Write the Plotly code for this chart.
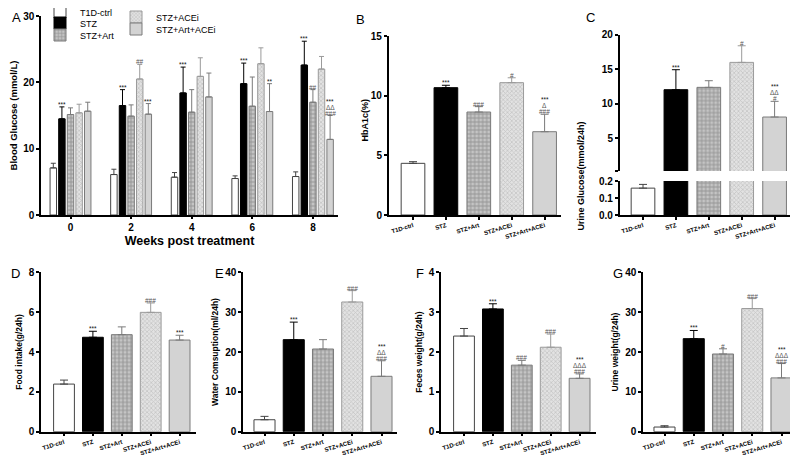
import plotly.graph_objects as go

groups = ["T1D-ctrl", "STZ", "STZ+Art", "STZ+ACEi", "STZ+Art+ACEi"]
weeks = ["0", "2", "4", "6", "8"]

# A: blood glucose (mmol/L) per week, mean and SEM
glu_ctrl = [7.1, 6.1, 5.7, 5.5, 5.8]
glu_stz = [14.5, 16.5, 18.4, 19.8, 22.6]
glu_art = [15.15, 14.9, 15.5, 16.4, 17.0]
glu_acei = [15.4, 20.5, 20.9, 22.8, 22.0]
glu_both = [15.65, 15.2, 17.8, 15.6, 11.4]
sem_ctrl = [0.7, 0.8, 0.7, 0.4, 0.7]
sem_stz = [1.8, 2.4, 3.9, 3.1, 3.6]
sem_art = [1.0, 1.7, 3.4, 4.4, 1.9]
sem_acei = [1.3, 2.2, 2.8, 2.4, 1.9]
sem_both = [1.35, 1.6, 3.6, 4.2, 3.6]
marks_a_ctrl = [[], [], [], [], []]
marks_a_stz = [["***"], ["***"], ["***"], ["***"], ["***"]]
marks_a_art = [[], [], [], [], ["##"]]
marks_a_acei = [[], ["##"], [], [], []]
marks_a_both = [[], ["***"], [], ["**"], ["###", "ΔΔ", "***"]]

# B-G: one value per group, mean and SEM
hba1c = [4.33, 10.67, 8.63, 11.09, 6.98]
hba1c_sem = [0.14, 0.2, 0.45, 0.41, 1.46]
hba1c_marks = [[], ["***"], ["###"], ["#"], ["###", "Δ", "***"]]

uglu = [0.158, 12.05, 12.39, 16.0, 8.1]
uglu_sem = [0.022, 2.89, 0.96, 2.4, 2.27]
uglu_marks = [[], ["***"], [], ["#"], ["#", "ΔΔ", "***"]]

food = [2.39, 4.74, 4.87, 5.99, 4.6]
food_sem = [0.2, 0.3, 0.39, 0.47, 0.24]
food_marks = [[], ["***"], [], ["###"], ["***"]]

water = [3.0, 23.1, 20.75, 32.55, 13.9]
water_sem = [0.85, 4.4, 2.35, 2.85, 3.9]
water_marks = [[], ["***"], [], ["###"], ["###", "ΔΔ", "***"]]

feces = [2.40, 3.08, 1.67, 2.12, 1.34]
feces_sem = [0.19, 0.13, 0.12, 0.33, 0.11]
feces_marks = [[], ["***"], ["###"], ["###"], ["###", "ΔΔΔ", "***"]]

urine = [1.17, 23.35, 19.5, 30.9, 13.5]
urine_sem = [0.33, 2.05, 1.3, 2.5, 3.6]
urine_marks = [[], ["***"], ["#"], ["###"], ["###", "ΔΔΔ", "***"]]

W, H = 798, 456
FONT = "Liberation Sans, Arial, sans-serif"

fills = ["white", "black", "#c4c4c4", "#e2e2e2", "#d3d3d3"]
edges = ["#444444", "black", "#7a7a7a", "#9a9a9a", "#7a7a7a"]
pshape = ["", "", "+", "x", ""]
pfg = ["#000", "#000", "#6a6a6a", "#a8a8a8", "#000"]
psize = [6, 6, 4, 3, 6]
# legend placement (x, y of item centre in px) for panel A
leg_pos = [(32, 4), (32, 15), (32, 27), (108, 9), (108, 21)]


def px(x):
    return x / W


def py(y):
    return 1 - y / H


def marker(i):
    return dict(color=fills[i], line=dict(color=edges[i], width=1),
                pattern=dict(shape=pshape[i], fgcolor=pfg[i], bgcolor=fills[i],
                             size=psize[i], solidity=0.45))


def mark_color(t):
    return "#111" if "*" in t else "#555"


def mark(x, y, xref, yref, k, t):
    return dict(x=x, y=y, xref=xref, yref=yref, text=t, showarrow=False,
                yanchor="bottom", yshift=k * 6 - 3,
                font=dict(family=FONT, size=6.5, color=mark_color(t)))


fig = go.Figure()
annots = []

# ---- panel A
glu = [glu_ctrl, glu_stz, glu_art, glu_acei, glu_both]
sems = [sem_ctrl, sem_stz, sem_art, sem_acei, sem_both]
marks_a = [marks_a_ctrl, marks_a_stz, marks_a_art, marks_a_acei, marks_a_both]
bargap = 0.29
legends = {}
for i, g in enumerate(groups):
    lname = "legend" if i == 0 else "legend%d" % (i + 1)
    fig.add_trace(go.Bar(
        name=g, x=weeks, y=glu[i], xaxis="x", yaxis="y", marker=marker(i),
        legend=lname,
        error_y=dict(type="data", symmetric=False, array=sems[i],
                     arrayminus=[0] * 5, color=edges[i], thickness=1, width=2.5)))
    legends[lname] = dict(x=px(leg_pos[i][0]), y=py(leg_pos[i][1]), xanchor="left",
                          yanchor="middle", font=dict(family=FONT, size=9),
                          bgcolor="rgba(0,0,0,0)", itemwidth=30)
    for w in range(5):
        for k, t in enumerate(marks_a[i][w]):
            annots.append(mark(w + (i - 2) * (1 - bargap) / 5, glu[i][w] + sems[i][w],
                               "x", "y", k, t))

axis_line = dict(showline=True, linecolor="black", linewidth=1.5, ticks="outside",
                 ticklen=3, tickwidth=1.5, tickcolor="black", showgrid=False,
                 zeroline=False, automargin=False)
bold10 = dict(family=FONT, size=10, color="black", weight="bold")
cat_font = dict(family=FONT, size=6, color="black", weight="bold")

layout = dict(
    xaxis=dict(domain=[px(33), px(330)], range=[-0.487, 4.414], type="category",
               anchor="y", tickfont=bold10,
               title=dict(text="Weeks post treatment", standoff=4,
                          font=dict(family=FONT, size=12.5, color="black", weight="bold")),
               **axis_line),
    yaxis=dict(domain=[py(207), py(8)], range=[0, 30], dtick=10, anchor="x",
               tickfont=bold10,
               title=dict(text="Blood Glucose (mmol/L)", standoff=6,
                          font=dict(family=FONT, size=9.5, color="black", weight="bold")),
               **axis_line),
)
layout["xaxis"]["ticklen"] = 2


def single_panel(n, vals, sem, marks, xpx, c0, pitch, ybot, ytop, yrange, dtick, title,
                 tsize=8.5):
    xa, ya = "x%d" % n, "y%d" % n
    w = 0.72
    for i, g in enumerate(groups):
        fig.add_trace(go.Bar(
            x=[g], y=[vals[i]], xaxis=xa, yaxis=ya, width=w, offset=-w / 2,
            marker=marker(i), showlegend=False,
            error_y=dict(type="data", symmetric=False, array=[sem[i]], arrayminus=[0],
                         color=edges[i], thickness=1, width=4)))
        for k, t in enumerate(marks[i]):
            annots.append(mark(g, vals[i] + sem[i], xa, ya, k, t))
    layout["xaxis%d" % n] = dict(
        domain=[px(xpx[0]), px(xpx[1])], type="category", categoryarray=groups,
        categoryorder="array", anchor=ya, tickangle=-17, tickfont=cat_font,
        range=[(xpx[0] - c0) / pitch, (xpx[1] - c0) / pitch], **axis_line)
    layout["yaxis%d" % n] = dict(
        domain=[py(ybot), py(ytop)], range=yrange, dtick=dtick, anchor=xa,
        tickfont=bold10,
        title=dict(text=title, standoff=5,
                   font=dict(family=FONT, size=tsize, color="black", weight="bold")),
        **axis_line)


single_panel(2, hba1c, hba1c_sem, hba1c_marks, (380.7, 553), 405, 32.9, 207, 28,
             [0, 15], 5, "")
single_panel(4, food, food_sem, food_marks, (33, 188), 56, 28.9, 423.7, 264.3,
             [0, 8], 2, "Food intake(g/24h)")
single_panel(5, water, water_sem, water_marks, (235, 389), 256.5, 29.25, 423.7, 264.3,
             [0, 40], 10, "Water Comsuption(ml/24h)")
single_panel(6, feces, feces_sem, feces_marks, (433, 588), 456, 28.9, 423.7, 264.3,
             [0, 4], 1, "Feces weight(g/24h)")
single_panel(7, urine, urine_sem, urine_marks, (635, 790), 656.5, 29.25, 423.7, 264.3,
             [0, 40], 10, "Urine weight(g/24h)")
annots.append(dict(x=px(356), y=py(89), xref="paper", yref="paper",
                   text="HbA1c(%)", textangle=-90, showarrow=False,
                   font=dict(family=FONT, size=9, color="black", weight="bold")))

# ---- panel C with broken y axis (lower y3, upper y8)
w = 0.72
for i, g in enumerate(groups):
    fig.add_trace(go.Bar(
        x=[g], y=[uglu[i]], xaxis="x3", yaxis="y3", width=w, offset=-w / 2,
        marker=marker(i), showlegend=False,
        error_y=dict(type="data", symmetric=False, array=[uglu_sem[i] if i == 0 else 0],
                     arrayminus=[0], color=edges[i], thickness=1, width=4,
                     visible=(i == 0))))
    fig.add_trace(go.Bar(
        x=[g], y=[uglu[i]], xaxis="x3", yaxis="y8", width=w, offset=-w / 2,
        marker=marker(i), showlegend=False,
        error_y=dict(type="data", symmetric=False, array=[uglu_sem[i]], arrayminus=[0],
                     color=edges[i], thickness=1, width=4, visible=(i > 0))))
    for k, t in enumerate(uglu_marks[i]):
        annots.append(mark(g, uglu[i] + uglu_sem[i], "x3", "y8" if i > 0 else "y3", k, t))

layout["xaxis3"] = dict(domain=[px(611.7), px(785)], type="category", categoryarray=groups,
                        categoryorder="array", anchor="y3", tickangle=-17,
                        tickfont=cat_font, range=[(611.7 - 635) / 32.9, (785 - 635) / 32.9],
                        **axis_line)
layout["yaxis3"] = dict(domain=[py(207), py(173)], range=[0, 0.2], tickvals=[0, 0.1, 0.2],
                        tickformat=".1f", anchor="x3", tickfont=bold10, **axis_line)
layout["yaxis8"] = dict(domain=[py(163), py(26.7)], range=[0.3, 20],
                        tickvals=[0.3, 5, 10, 15, 20], ticktext=["", "5", "10", "15", "20"],
                        anchor="x3", tickfont=bold10, **axis_line)
annots.append(dict(x=px(579), y=py(112), xref="paper", yref="paper",
                   text="Urine Glucose(mmol/24h)", textangle=-90, showarrow=False,
                   font=dict(family=FONT, size=9, color="black", weight="bold")))

# panel letters
for letter, lx, ly in [("A", 2, 0), ("B", 346, 2), ("C", 576, 0), ("D", 1, 256),
                       ("E", 205, 256), ("F", 406, 256), ("G", 603, 256)]:
    annots.append(dict(x=px(lx), y=py(ly), xref="paper", yref="paper", text=letter,
                       showarrow=False, xanchor="left", yanchor="top",
                       font=dict(family=FONT, size=13, color="black")))

fig.update_layout(
    width=W, height=H, margin=dict(l=0, r=0, t=0, b=0, autoexpand=False),
    paper_bgcolor="white", plot_bgcolor="white",
    font=dict(family=FONT, color="black"),
    barmode="group", bargap=bargap, bargroupgap=0.25,
    annotations=annots,
    **legends,
    **layout,
)

fig.write_html("out.html")
